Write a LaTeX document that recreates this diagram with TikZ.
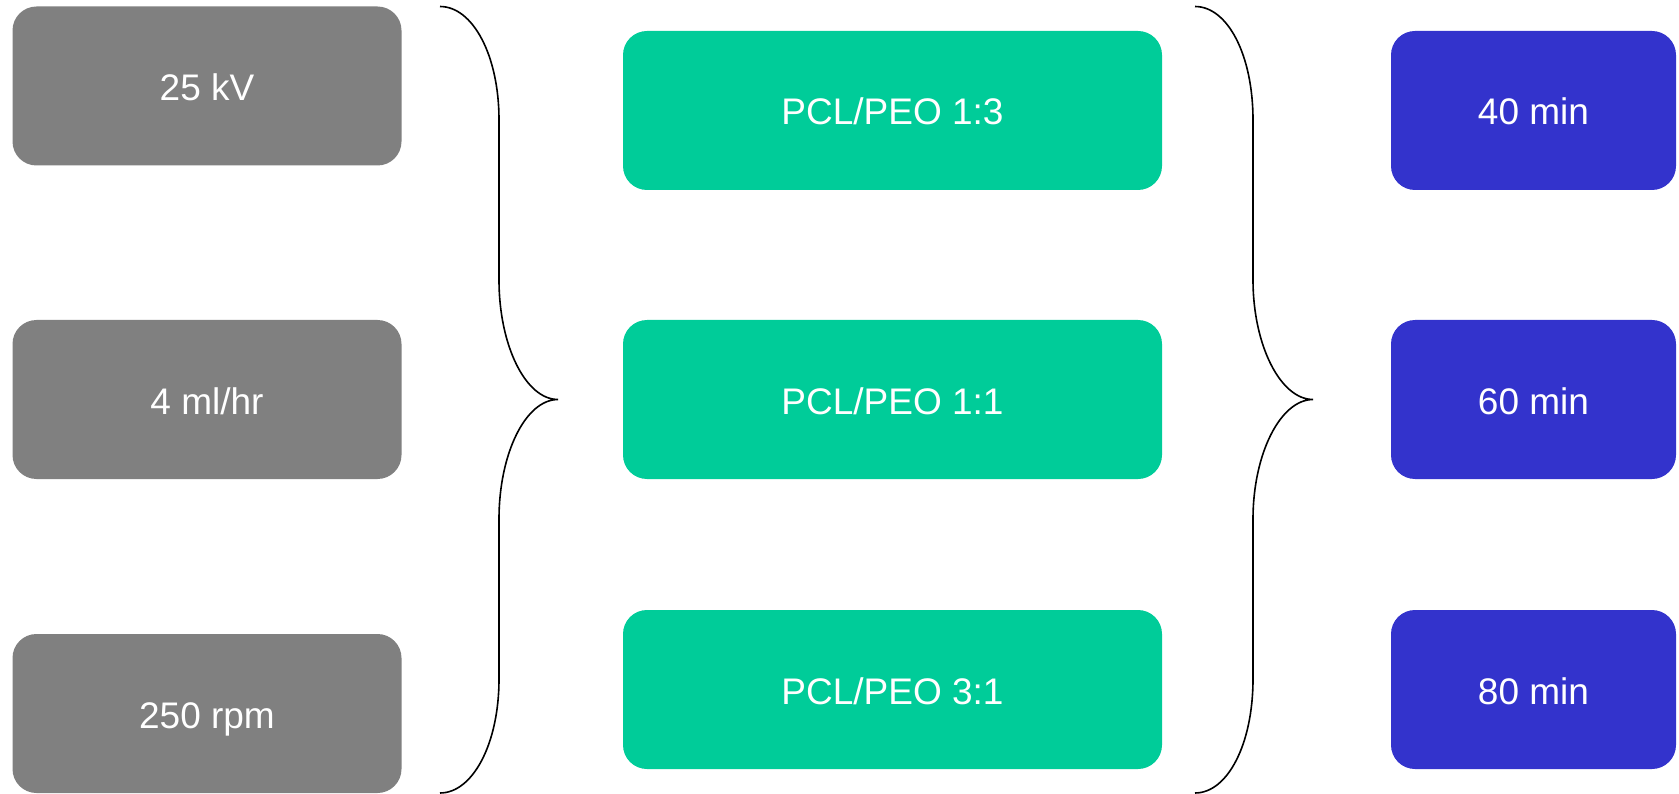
\documentclass[tikz,border=0pt]{standalone}
\usepackage{fontspec}
\setmainfont{Liberation Sans}
\definecolor{boxgray}{HTML}{808080}
\definecolor{boxgreen}{HTML}{00CC99}
\definecolor{boxblue}{HTML}{3333CC}
\tikzset{
  card/.style={rectangle, rounded corners=24pt, draw=none, text=white, inner sep=0pt,
    minimum height=159pt, font=\fontsize{37}{44}\selectfont,
    text height=29pt, text depth=0pt},
  graycard/.style={card, fill=boxgray, minimum width=389pt},
  greencard/.style={card, fill=boxgreen, minimum width=539pt},
  bluecard/.style={card, fill=boxblue, minimum width=285pt},
  bracestroke/.style={draw=black, line width=1.6pt}
}
\begin{document}
\begin{tikzpicture}[x=1pt,y=-1pt]
\useasboundingbox (0,0) rectangle (1679,794);
% left column
\node[graycard] (g1) at (207,86) {25 kV};
\node[graycard] (g2) at (207,399.5) {4 ml/hr};
\node[graycard] (g3) at (207,713.5) {250 rpm};
% middle column
\node[greencard] (m1) at (892.5,110.5) {PCL/PEO 1:3};
\node[greencard] (m2) at (892.5,399.5) {PCL/PEO 1:1};
\node[greencard] (m3) at (892.5,689.5) {PCL/PEO 3:1};
% right column
\node[bluecard] (b1) at (1533.5,110.5) {40 min};
\node[bluecard] (b2) at (1533.5,399.5) {60 min};
\node[bluecard] (b3) at (1533.5,689.5) {80 min};
% brace 1
\draw[bracestroke] (440,6.5) .. controls (472.6,6.5) and (499,55) .. (499,120)
  -- (499,280) .. controls (499,345) and (525.4,399.5) .. (558,399.5)
  .. controls (525.4,399.5) and (499,454) .. (499,519)
  -- (499,679) .. controls (499,744) and (472.6,793) .. (440,793);
% brace 2
\draw[bracestroke] (1195,6.5) .. controls (1227.6,6.5) and (1253,55) .. (1253,120)
  -- (1253,280) .. controls (1253,345) and (1280.4,399.5) .. (1313,399.5)
  .. controls (1280.4,399.5) and (1253,454) .. (1253,519)
  -- (1253,679) .. controls (1253,744) and (1227.6,793) .. (1195,793);
\end{tikzpicture}
\end{document}
